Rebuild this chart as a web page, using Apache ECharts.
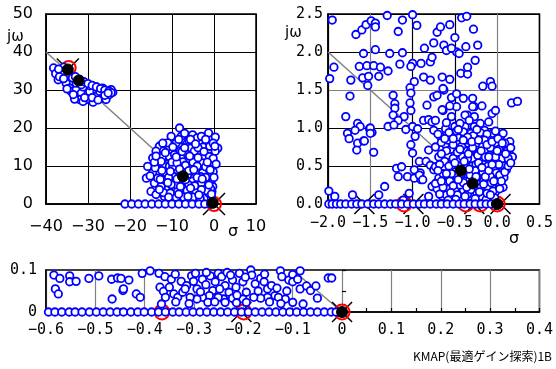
<!DOCTYPE html>
<html>
<head>
<meta charset="utf-8">
<script src="https://cdn.jsdelivr.net/npm/echarts@6/dist/echarts.min.js"></script>
<style>
  html, body { margin: 0; padding: 0; background: #fff; }
  #main { width: 556px; height: 369px; }
</style>
</head>
<body>
<div id="main"></div>
<script>
// ---- panel 1 : wide view ----
var p1Cloud = [
  [-38.2,35.8],[-37.7,34.3],[-37.1,32.7],[-36.4,34.9],[-35.2,31.8],[-34.4,30.5],[-34.0,29.6],[-32.8,30.1],
  [-32.4,28.3],[-31.6,29.2],[-32.0,27.5],[-30.4,27.5],[-30.0,29.0],[-29.6,29.6],[-28.0,28.3],[-27.2,29.6],
  [-26.5,27.9],[-25.7,27.5],[-24.9,28.8],[-24.1,29.4],[-24.5,30.1],[-28.8,26.8],[-31.2,27.0],[-33.2,27.6],
  [-28.0,30.8],[-29.6,31.1],[-31.2,30.8],[-32.8,31.8],[-33.7,33.2],[-26.5,30.5],[-31.6,31.4],
  [-33.0,33.5],[-32.0,32.8],[-31.0,32.2],[-30.0,31.7],[-29.0,31.2],[-28.0,30.8],[-27.0,30.4],[-26.0,30.0],
  [-25.0,29.7],[-24.5,29.3],
  [-36.8,33.5],[-35.8,33.0],[-35.0,30.3],[-33.5,28.8],[-30.8,28.0],[-29.0,28.0],[-27.6,27.4],[-26.0,28.6],
  [-25.2,29.2],[-35.8,36.0],[-37.0,35.5],
  [-8.2,20.0],[-10.2,17.8],[-7.8,17.8],[-5.1,18.2],[-1.3,18.7],[0.3,17.6],[0.9,14.7],[0.3,13.9],
  [-13.0,15.2],[-11.4,14.7],[-13.8,13.9],[-14.6,12.1],[-15.8,9.9],[-16.1,6.8],[-15.0,3.3],[-14.2,5.5],
  [-13.0,8.2],[-12.2,10.4],[-11.4,12.5],[-9.8,13.9],[-8.2,15.2],[-6.6,15.6],[-5.5,14.7],[-3.5,13.4],
  [-2.3,12.5],[-1.1,12.5],[-0.3,10.4],[-1.5,9.5],[-1.1,7.7],[-0.7,6.0],[-0.3,4.6],[-0.5,3.3],
  [-2.3,4.6],[-3.5,6.4],[-4.3,8.2],[-5.5,9.9],[-6.6,11.7],[-7.8,12.5],[-9.4,11.7],[-10.6,9.9],
  [-11.4,8.2],[-11.8,6.0],[-11.0,3.8],[-9.8,2.5],[-8.7,3.3],[-7.1,4.2],[-5.9,2.9],[-4.3,3.3],
  [-2.7,2.5],[-1.9,1.6],[-9.8,7.3],[-8.7,9.0],[-7.1,9.5],[-6.3,7.7],[-5.1,6.0],[-7.9,6.0],
  [-9.0,5.1],[-10.2,5.1],[-12.6,4.6],[-13.8,2.5],[-11.8,2.0],[-3.5,9.9],[-2.7,8.2],[-1.9,6.0],
  [-4.7,13.9],[-6.3,13.0],[-9.0,16.1],[-11.0,16.1],[-12.2,12.5],[-13.4,10.8],[-14.6,8.2],[-13.4,6.8],
  [-3.5,16.1],[-4.3,11.7],[-2.7,10.8],[-7.4,11.1],[-9.8,9.9],[-10.6,12.5],[-9.4,13.0],
  [-0.6,1.5],[-1.2,2.8],[-0.2,8.5],[-6.0,5.0],[-3.0,5.5],[-8.0,14.0],[-12.0,14.0],
  [-14.0,9.5],[-12.8,6.5],[-12.0,3.0],[-10.8,7.0],[-10.0,11.0],[-8.8,10.8],[-7.6,13.8],[-6.8,10.2],
  [-6.0,8.8],[-5.0,11.0],[-4.0,10.0],[-3.2,7.2],[-2.0,9.8],[-0.9,9.0],[0.0,7.0],[-0.8,4.0],
  [-1.6,3.5],[-3.0,3.8],[-4.6,4.8],[-6.4,3.5],[-8.0,4.6],[-9.0,1.8],[-7.2,1.8],[-5.0,1.8],
  [-3.3,1.5],[-12.6,11.2],[-11.6,13.5],[-8.4,17.0],[-6.0,16.8],[-4.0,17.4],[-2.6,15.0],[-1.0,15.2],
  [-0.2,16.0],[-3.0,17.8],[-10.4,2.9],[-13.0,3.8],[-15.2,7.4],[-14.2,11.0],[-0.2,12.0],[0.5,10.5],
  [-5.8,12.6],[-3.8,14.8],[-9.8,15.0],[-8.8,6.6],[-4.0,7.0],[-2.0,7.0],
  [-11.0,5.6],[-10.4,8.6],[-9.0,12.4],[-8.2,9.2],[-7.0,14.8],[-6.8,6.4],[-5.6,4.2],[-4.8,9.0],
  [-3.8,12.2],[-2.4,13.8],[-1.6,11.0],[-1.2,5.0],[-2.8,6.6],[-3.6,2.4],[-6.2,2.0],[-8.4,2.6],
  [-10.8,1.8],[-12.4,8.8],[-13.8,12.6],[-12.2,16.0],[-7.0,18.6],[-5.6,17.0],[-2.0,17.0],[0.2,15.2],
  [-0.6,2.6],[-4.4,15.8]
];
var p1Row = [-21.2,-19.6,-18.0,-16.4,-14.8,-13.2,-11.6,-10.0,-8.4,-6.8,-5.2,-3.6,-2.2,-0.8];
var p1Zeta = [[-40,40],[0,0]];
var p1Black = [[-34.8,35.4],[-32.2,32.5],[-7.4,7.3],[-0.3,0.3]];
var p1Red = [[-34.6,35.8],[0,0]];
var p1Cross = [[-34.8,35.4],[0,0]];

// ---- panel 2 : close-up ----
var p2Cloud = [
  [-1.95,2.42],[-1.93,1.80],[-1.98,1.65],[-1.99,0.17],[-1.92,0.10],[-1.67,2.23],[-1.60,2.29],[-1.55,2.36],
  [-1.49,2.41],[-1.44,2.38],[-1.44,2.33],[-1.58,1.98],[-1.44,2.03],[-1.73,1.63],[-1.74,1.42],[-1.63,1.81],
  [-1.54,1.82],[-1.46,1.82],[-1.38,1.80],[-1.59,1.66],[-1.52,1.68],[-1.40,1.68],[-1.53,1.56],[-1.79,1.15],
  [-1.65,1.06],[-1.62,1.02],[-1.51,0.99],[-1.48,0.94],[-1.77,0.93],[-1.75,0.86],[-1.65,0.80],[-1.66,0.71],
  [-1.58,0.83],[-1.46,0.68],[-1.30,2.48],[-1.12,2.42],[-1.00,2.49],[-0.87,2.51],[-0.95,2.35],[-1.17,2.27],
  [-1.27,1.98],[-1.12,1.99],[-1.00,1.85],[-1.02,1.81],[-0.90,1.85],[-0.79,1.87],[-0.77,1.93],[-0.86,2.05],
  [-1.29,1.75],[-1.15,1.84],[-0.87,1.67],[-0.79,1.63],[-0.98,1.61],[-1.03,1.53],[-1.02,1.46],[-1.23,1.43],
  [-1.21,1.32],[-1.21,1.26],[-1.03,1.33],[-1.02,1.23],[-1.23,1.17],[-1.10,1.15],[-1.17,1.10],[-1.29,1.02],
  [-1.22,1.04],[-1.08,0.98],[-1.00,1.02],[-0.97,0.89],[-0.94,0.99],[-1.02,0.78],[-1.00,0.67],[-0.92,0.56],
  [-0.87,1.10],[-0.81,1.11],[-0.83,1.30],[-0.75,1.41],[-0.71,1.43],[-0.63,1.50],[-0.64,1.23],[-0.75,2.12],
  [-0.71,2.26],[-0.67,2.33],[-0.63,2.09],[-0.60,2.02],[-0.56,2.36],[-0.50,2.19],[-0.48,2.00],[-0.42,2.45],
  [-0.36,2.47],[-0.28,2.30],[-0.54,2.05],[-0.45,1.98],[-0.37,2.07],[-0.26,1.89],[-0.23,2.09],[-0.43,1.72],
  [-0.35,1.71],[-0.35,1.80],[-0.17,1.55],[-0.08,1.61],[-0.06,1.55],[-0.65,1.67],[-0.56,1.64],[-0.64,1.52],
  [-0.54,1.40],[-0.48,1.45],[-0.40,1.39],[-0.29,1.39],[-0.27,1.28],[-0.18,1.29],[-0.06,1.19],[-0.02,1.23],
  [-0.48,1.28],[-0.56,1.29],[-0.35,1.17],[0.17,1.33],[0.24,1.35],[-1.68,0.97],[-1.19,0.47],[-1.17,0.36],
  [-1.06,0.36],[-1.04,0.14],[-1.33,0.23],[-1.40,0.12],[-1.71,0.12],[-0.98,0.34],[-0.90,0.32],[-0.91,0.41],
  [-0.98,0.45],[-1.13,0.49],[-0.92,0.38],[-0.84,0.56],[-0.79,0.51],[-0.75,0.45],[-0.88,0.32],[-0.77,0.23],
  [-0.81,0.10],[-1.11,0.05],[-0.81,0.71],[-0.77,1.08],[-1.57,0.83],[-1.50,1.00],[-1.50,0.93],
  [-0.65,1.24],[-0.29,1.28],[-0.73,1.10],[-0.54,1.15],[-0.38,1.17],[-0.27,1.15],[-0.75,0.97],[-0.61,0.99],
  [-0.50,1.02],[-0.38,1.02],[-0.27,1.02],[-0.15,0.97],[-0.06,0.93],[0.04,0.89],[-0.67,0.89],[-0.54,0.91],
  [-0.42,0.91],[-0.31,0.93],[-0.21,0.86],[-0.10,0.84],[0.00,0.80],[0.10,0.75],[0.15,0.82],[0.14,0.67],
  [0.12,0.56],[0.06,0.42],[0.02,0.29],[-0.02,0.16],[-0.73,0.75],[-0.61,0.78],[-0.48,0.80],[-0.34,0.80],
  [-0.23,0.75],[-0.13,0.71],[-0.04,0.67],[0.04,0.62],[-0.69,0.62],[-0.58,0.64],[-0.46,0.67],[-0.34,0.64],
  [-0.19,0.60],[-0.08,0.56],[0.00,0.51],[-0.73,0.49],[-0.63,0.47],[-0.54,0.49],[-0.38,0.49],[-0.23,0.47],
  [-0.13,0.45],[-0.06,0.38],[-0.69,0.34],[-0.58,0.36],[-0.48,0.32],[-0.38,0.34],[-0.19,0.34],[-0.10,0.32],
  [0.00,0.32],[-0.71,0.20],[-0.59,0.20],[-0.50,0.18],[-0.40,0.18],[-0.27,0.20],[-0.15,0.18],[-0.06,0.23],
  [-0.65,0.10],[-0.54,0.10],[-0.42,0.07],[-0.31,0.10],[-0.19,0.10],[-0.10,0.10],[-0.34,0.84],
  [-0.45,0.58],[-0.33,0.55],[-0.25,0.62],[-0.16,0.52],[-0.28,0.42],[-0.50,0.42],[-0.62,0.28],[-0.44,0.25],
  [-0.22,0.26],[-0.12,0.40],[-0.04,0.45],[0.08,0.50],[-0.36,0.70],[-0.26,0.88],[-0.18,0.78],[-0.08,0.74],
  [-0.55,0.72],[-0.40,0.95],[-0.62,0.56],[-0.52,0.60],[-0.30,0.50],[-0.20,0.40],[-0.35,0.13],[-0.24,0.14],
  [-0.12,0.22],[0.05,0.70],[-0.47,0.88],[-0.58,0.84],
  [-0.70,0.92],[-0.66,0.81],[-0.60,0.70],[-0.68,0.52],[-0.64,0.40],[-0.70,0.44],[-0.56,0.30],[-0.60,0.12],
  [-0.52,0.24],[-0.47,0.12],[-0.45,0.50],[-0.41,0.62],[-0.37,0.40],[-0.33,0.30],[-0.31,0.72],[-0.29,0.60],
  [-0.25,0.52],[-0.24,0.36],[-0.21,0.68],[-0.17,0.42],[-0.16,0.30],[-0.14,0.62],[-0.11,0.50],[-0.09,0.64],
  [-0.07,0.28],[-0.05,0.17],[-0.03,0.58],[-0.01,0.41],[0.02,0.72],[0.06,0.60],[0.08,0.35],[0.09,0.80],
  [0.12,0.70],[0.16,0.74],[0.18,0.62],[0.11,0.45],[0.07,0.22],[-0.03,0.08],[-0.13,0.06],[-0.26,0.07],
  [-0.38,0.10],[-0.49,0.06],[-0.58,0.05],[-0.68,0.13],[-0.73,0.27],[-0.66,0.66],[-0.52,0.78],[-0.42,0.76],
  [-0.28,0.90],[-0.20,0.94],[-0.12,0.92],[-0.02,0.96],[0.07,0.93],[-0.44,1.06],[-0.33,1.10],[-0.20,1.06],
  [-0.10,1.08],[-0.57,0.94],[-0.48,0.96],[-0.60,1.07],[-0.35,0.60],[-0.47,0.68],[-0.57,0.50],[-0.49,0.38],
  [-0.40,0.28],[-0.31,0.19],[-0.19,0.22],[-0.08,0.36],[0.02,0.52],[0.13,0.60],[-0.15,0.84],[-0.25,0.80],
  [-0.35,0.88],[-0.64,0.22],[-0.55,0.15],
  [-0.42,0.40],[-0.36,0.48],[-0.32,0.38],[-0.26,0.44],[-0.22,0.54],[-0.18,0.48],[-0.14,0.36],[-0.10,0.44],
  [-0.06,0.52],[-0.02,0.62],[0.03,0.38],[0.05,0.30],[0.09,0.42],[0.13,0.50],[0.16,0.54],[-0.39,0.56],
  [-0.34,0.66],[-0.29,0.74],[-0.23,0.64],[-0.19,0.70],[-0.12,0.78],[-0.06,0.82],[0.01,0.86],[0.06,0.80],
  [-0.44,0.72],[-0.50,0.54],[-0.54,0.40],[-0.46,0.32],[-0.36,0.22],[-0.28,0.30],[-0.21,0.16],[-0.12,0.14],
  [-0.04,0.30],[0.03,0.20],[-0.08,0.12],[-0.16,0.26],[-0.25,0.36],[-0.33,0.46],[-0.40,0.84],[-0.30,0.82],
  [-0.22,0.84],[-0.10,0.62],[0.00,0.70],[0.10,0.66],[-0.60,0.40],[-0.66,0.30],[-0.62,0.86],[-0.52,0.86],
  [-0.46,0.98],[-0.24,0.98]
];
var p2Row = [-1.99,-1.95,-1.90,-1.85,-1.79,-1.72,-1.66,-1.60,-1.53,-1.46,-1.40,-1.33,-1.26,-1.20,-1.13,-1.06,
  -0.99,-0.92,-0.86,-0.79,-0.72,-0.66,-0.59,-0.52,-0.45,-0.39,-0.32,-0.26,-0.19,-0.13,-0.07,-0.02];
var p2Zeta = [[-2,2],[0,0]];
var p2Black = [[-0.43,0.44],[-0.29,0.27],[0.0,0.0]];
var p2Red = [[-1.10,0],[-0.37,0],[-0.20,0],[0,0]];
var p2Cross = [[-1.57,0],[-0.99,0],[-0.27,0],[0.04,0]];

// ---- panel 3 : near the axis ----
var p3Cloud = [
  [-0.584,0.088],[-0.572,0.080],[-0.581,0.055],[-0.575,0.043],[-0.552,0.086],[-0.552,0.072],[-0.539,0.073],
  [-0.513,0.080],[-0.493,0.086],[-0.467,0.078],[-0.455,0.081],[-0.448,0.080],[-0.432,0.076],[-0.466,0.031],
  [-0.444,0.051],[-0.443,0.055],[-0.417,0.043],[-0.409,0.035],[-0.405,0.092],[-0.389,0.098],[-0.371,0.092],
  [-0.359,0.084],[-0.346,0.078],[-0.369,0.059],[-0.362,0.049],[-0.350,0.059],[-0.341,0.043],[-0.333,0.035],
  [-0.326,0.073],[-0.315,0.063],[-0.305,0.086],[-0.301,0.073],[-0.294,0.055],[-0.283,0.078],[-0.276,0.065],
  [-0.267,0.086],[-0.262,0.051],[-0.257,0.072],[-0.251,0.092],[-0.244,0.084],[-0.237,0.063],[-0.233,0.094],
  [-0.229,0.047],[-0.222,0.076],[-0.215,0.059],[-0.208,0.092],[-0.201,0.072],[-0.194,0.047],[-0.185,0.100],
  [-0.183,0.088],[-0.176,0.067],[-0.165,0.080],[-0.158,0.072],[-0.151,0.055],[-0.143,0.063],[-0.136,0.039],
  [-0.125,0.098],[-0.122,0.084],[-0.108,0.076],[-0.100,0.089],[-0.100,0.072],[-0.090,0.078],[-0.085,0.098],
  [-0.085,0.055],[-0.072,0.062],[-0.064,0.051],[-0.053,0.062],[-0.050,0.033],[-0.028,0.081],[-0.021,0.081],
  [-0.115,0.031],[-0.129,0.035],[-0.151,0.035],[-0.165,0.033],[-0.179,0.035],[-0.201,0.031],[-0.222,0.033],
  [-0.240,0.031],[-0.251,0.035],[-0.269,0.039],[-0.283,0.035],[-0.294,0.031],[-0.308,0.035],[-0.323,0.047],
  [-0.358,0.035],[-0.366,0.019],[-0.237,0.023],[-0.272,0.023],[-0.194,0.023],[-0.100,0.023],[-0.079,0.019],
  [-0.318,0.055],[-0.287,0.048],[-0.248,0.055],[-0.213,0.040],[-0.170,0.050],[-0.132,0.057],[-0.112,0.050],
  [-0.275,0.094],[-0.226,0.088],[-0.157,0.090],[-0.196,0.083],[-0.338,0.090],[-0.297,0.092],[-0.258,0.024],
  [-0.214,0.022],[-0.147,0.024],[-0.124,0.020],[-0.337,0.024],[-0.310,0.020]
];
var p3Row = [-0.595,-0.582,-0.568,-0.553,-0.541,-0.527,-0.512,-0.498,-0.484,-0.470,-0.456,-0.443,-0.428,
  -0.414,-0.401,-0.386,-0.372,-0.358,-0.343,-0.330,-0.316,-0.302,-0.288,-0.274,-0.260,-0.246,-0.232,-0.218,
  -0.204,-0.190,-0.176,-0.162,-0.148,-0.134,-0.120,-0.106,-0.092,-0.078,-0.064,-0.050,-0.036,-0.022,-0.012];
var p3Zeta = [[-0.1,0.1],[0,0]];
var p3Black = [[0,0]];
var p3Red = [[-0.365,0],[-0.199,0],[0,0]];
var p3Cross = [[-0.204,0],[0,0]];

var chart = echarts.init(document.getElementById('main'));

function minus(s) { return String(s).replace('-', '\u2212'); }
function onAxis(xs) { return xs.map(function (x) { return [x, 0]; }); }

var crossPath = 'path://M0,0L10,10M10,0L0,10';
var sansLbl = { color: '#000', fontFamily: 'DejaVu Sans', fontSize: 16 };
var monoLbl = { color: '#000', fontFamily: 'DejaVu Sans Mono', fontSize: 15 };

function panelSeries(i, zeta, cloud, row, black, red, cross, crossSize, redSize) {
  return [
    { type: 'line', xAxisIndex: i, yAxisIndex: i, data: zeta, symbol: 'none', silent: true, z: 1,
      lineStyle: { color: '#808080', width: 1.5 } },
    { type: 'scatter', xAxisIndex: i, yAxisIndex: i, data: cross, symbol: crossPath, symbolSize: crossSize, z: 2,
      itemStyle: { color: 'rgba(0,0,0,0)', borderColor: '#000', borderWidth: 1.5, opacity: 1 } },
    { type: 'scatter', xAxisIndex: i, yAxisIndex: i, data: red, symbol: 'circle', symbolSize: redSize, z: 3,
      itemStyle: { color: 'rgba(0,0,0,0)', borderColor: '#ff0000', borderWidth: 2, opacity: 1 } },
    { type: 'scatter', xAxisIndex: i, yAxisIndex: i, data: cloud.concat(onAxis(row)), symbol: 'circle',
      symbolSize: 7.5, z: 4,
      itemStyle: { color: '#fff', borderColor: '#0000ff', borderWidth: 1.8, opacity: 1 } },
    { type: 'scatter', xAxisIndex: i, yAxisIndex: i, data: black, symbol: 'circle', symbolSize: 11, z: 6,
      itemStyle: { color: '#000000', borderColor: '#000000', borderWidth: 1, opacity: 1 } }
  ];
}

// tick-only axes for the small inside ticks of the bottom panel
var tickOnly = {
  axisLine: { show: false }, splitLine: { show: false }, axisLabel: { show: false },
  axisTick: { show: true, inside: true, length: 4, lineStyle: { color: '#000', width: 1.2 } }
};

var option = {
  animation: false,
  backgroundColor: '#fff',
  grid: [
    { left: 46, top: 14, width: 210, height: 190, show: true, borderColor: '#000', borderWidth: 1.5 },
    { left: 328, top: 14, width: 217, height: 190, show: true, borderColor: '#000', borderWidth: 1.5 },
    { left: 46, top: 270, width: 495, height: 42, show: true, borderColor: '#000', borderWidth: 1.5 }
  ],
  xAxis: [
    { gridIndex: 0, type: 'value', min: -40, max: 10, interval: 10,
      axisLine: { onZero: false, lineStyle: { color: '#000', width: 1.5 } }, axisTick: { show: false },
      splitLine: { lineStyle: { color: '#000', width: 1 } },
      axisLabel: Object.assign({ margin: 15, formatter: function (v) { return minus(v); } }, sansLbl) },
    { gridIndex: 1, type: 'value', min: -2, max: 0.5, interval: 0.5,
      axisLine: { onZero: false, lineStyle: { color: '#000', width: 1.5 } }, axisTick: { show: false },
      splitLine: { lineStyle: { color: ['#000', '#808080', '#000', '#000', '#808080', '#000'], width: 1.2 } },
      axisLabel: Object.assign({ margin: 12, formatter: function (v) { return minus(v.toFixed(1)); } }, monoLbl) },
    { gridIndex: 2, type: 'value', min: -0.6, max: 0.4, interval: 0.1,
      axisLine: { onZero: false, lineStyle: { color: '#000', width: 1.5 } },
      axisTick: { show: false },
      splitLine: { lineStyle: { color: '#808080', width: 1.2 } },
      axisLabel: Object.assign({ margin: 11, formatter: function (v) { return minus(+v.toFixed(2)); } }, monoLbl) },
    Object.assign({ gridIndex: 2, type: 'value', position: 'bottom', min: -0.6, max: 0.4, interval: 0.05 }, tickOnly)
  ],
  yAxis: [
    { gridIndex: 0, type: 'value', min: 0, max: 50, interval: 10,
      axisLine: { onZero: false, lineStyle: { color: '#000', width: 1.5 } }, axisTick: { show: false },
      splitLine: { lineStyle: { color: '#000', width: 1 } },
      axisLabel: Object.assign({ margin: 13 }, sansLbl) },
    { gridIndex: 1, type: 'value', min: 0, max: 2.5, interval: 0.5,
      axisLine: { onZero: false, lineStyle: { color: '#000', width: 1.5 } }, axisTick: { show: false },
      splitLine: { lineStyle: { color: ['#000', '#000', '#000', '#808080', '#000', '#000'], width: 1.2 } },
      axisLabel: Object.assign({ margin: 5, formatter: function (v) { return v.toFixed(1); } }, monoLbl) },
    { gridIndex: 2, type: 'value', min: 0, max: 0.1, interval: 0.1,
      axisLine: { onZero: false, lineStyle: { color: '#000', width: 1.5 } },
      axisTick: { show: false },
      splitLine: { show: false },
      axisLabel: Object.assign({ margin: 9, formatter: function (v) { return String(+v.toFixed(2)); } }, monoLbl) },
    Object.assign({ gridIndex: 2, type: 'value', position: 'left', min: 0, max: 0.1, interval: 0.05 }, tickOnly)
  ],
  graphic: [
    { type: 'text', left: 7, top: 30, style: { text: 'j\u03c9', font: '15px "DejaVu Sans"', fill: '#000' } },
    { type: 'text', left: 228, top: 224, style: { text: '\u03c3', font: '16px "DejaVu Sans"', fill: '#000' } },
    { type: 'text', left: 285, top: 26, style: { text: 'j\u03c9', font: '15px "DejaVu Sans"', fill: '#000' } },
    { type: 'text', left: 509, top: 231, style: { text: '\u03c3', font: '16px "DejaVu Sans"', fill: '#000' } },
    { type: 'text', right: 4, top: 350, style: { text: 'KMAP(最適ゲイン探索)1B', font: '12px "Noto Sans CJK JP"', fill: '#000' } }
  ],
  series: []
    .concat(panelSeries(0, p1Zeta, p1Cloud, p1Row, p1Black, p1Red, p1Cross, 22, 14))
    .concat(panelSeries(1, p2Zeta, p2Cloud, p2Row, p2Black, p2Red, p2Cross, 20, 15))
    .concat(panelSeries(2, p3Zeta, p3Cloud, p3Row, p3Black, p3Red, p3Cross, 20, 15))
};

chart.setOption(option);
</script>
</body>
</html>
